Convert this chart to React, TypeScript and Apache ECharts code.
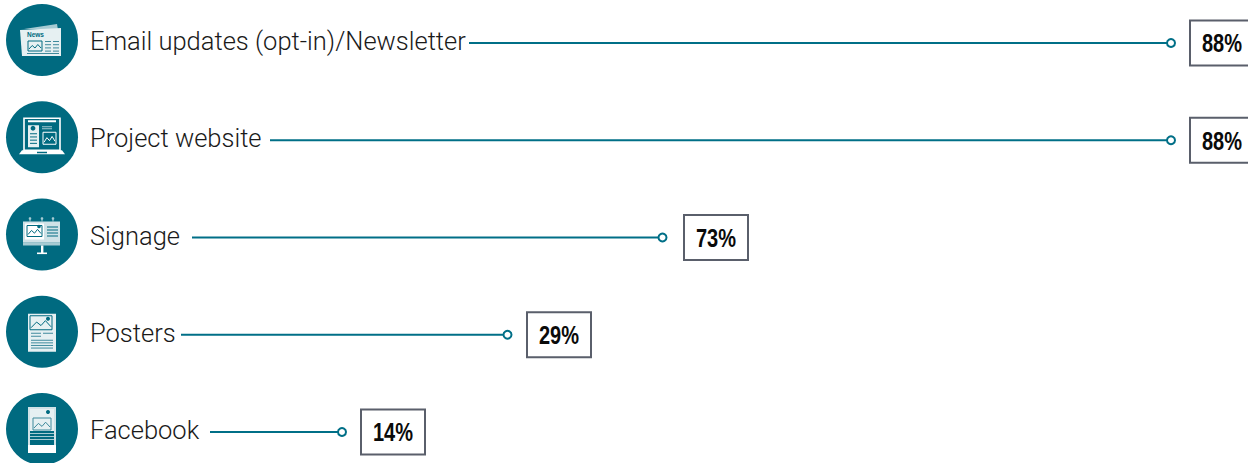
import React, { useEffect, useRef } from "react";
import * as echarts from "echarts";

const categories = ["Email updates (opt-in)/Newsletter", "Project website", "Signage", "Posters", "Facebook"];
const percentages = [88, 88, 73, 29, 14];
// Where each leader line begins and ends, read on the picture's horizontal axis.
const lineFrom = [469, 270, 192, 181, 210];
const lineTo = [1171, 1171, 662.5, 507.5, 342];
const boxFrom = [1190, 1190, 684, 527, 361];

const TEAL = "#006a80";
const LINE = "#006f87";
const WHITE = "#ffffff";
const SOFT = "rgba(255,255,255,0.65)";

const rect = (x: number, y: number, width: number, height: number, fill = WHITE, stroke?: string, lineWidth = 1) => ({
  type: "rect",
  shape: { x, y, width, height },
  style: { fill: stroke && fill === "none" ? "transparent" : fill, stroke, lineWidth },
});
const poly = (points: number[][], stroke = TEAL, lineWidth = 1) => ({
  type: "polyline",
  shape: { points },
  style: { fill: "transparent", stroke, lineWidth },
});
const dot = (cx: number, cy: number, r: number, fill = TEAL) => ({
  type: "circle",
  shape: { cx, cy, r },
  style: { fill },
});
const rows = (x: number, y: number, w: number, n: number, step: number, fill = TEAL, h = 1) =>
  Array.from({ length: n }, (_, i) => rect(x, y + i * step, w, h, fill));

const picture = (x: number, y: number, w: number, h: number, color = TEAL) => [
  rect(x, y, w, h, "none", color, 1),
  poly(
    [
      [x + 1, y + h - 2],
      [x + w * 0.3, y + h * 0.45],
      [x + w * 0.5, y + h * 0.7],
      [x + w * 0.7, y + h * 0.35],
      [x + w - 1, y + h - 3],
    ],
    color,
    1,
  ),
];

const iconNews = () => [
  { type: "polygon", shape: { points: [[-18, -11], [15, -16], [16, -10]] }, style: { fill: SOFT } },
  { type: "polygon", shape: { points: [[-22, -10], [19, -12], [19, 16], [-20, 16]] }, style: { fill: "#e6f0f2" } },
  { type: "text", style: { x: -15, y: -9, text: "News", fontSize: 6.5, fontWeight: "bold", fontFamily: "Liberation Sans", fill: TEAL } },
  ...picture(-14, 1, 14, 10),
  ...rows(3, 1, 6, 4, 3.2, "#3f8a9c"),
  ...rows(11, 1, 6, 4, 3.2, "#3f8a9c"),
  rect(-15, 13, 32, 1, "#3f8a9c"),
];

const iconLaptop = () => [
  rect(-18, -19, 36, 32, "none", WHITE, 1.6),
  rect(-14, -17, 28, 2, WHITE),
  rect(-14, -12, 11, 22, "#e6f0f2"),
  dot(-9, -9, 2.4),
  ...rows(-12, -4, 7, 4, 3.2),
  ...rows(0, -11, 10, 2, 2, SOFT),
  ...picture(1, -5, 13, 12, WHITE),
  { type: "polygon", shape: { points: [[-20, 13], [20, 13], [23, 17], [-23, 17]] }, style: { fill: WHITE } },
  rect(-5, 14.5, 10, 1.5, TEAL),
];

const iconBoard = () => [
  dot(-12, -16, 1.3, SOFT),
  dot(0, -16, 1.3, SOFT),
  dot(11, -16, 1.3, SOFT),
  rect(-12.5, -15, 1, 2, SOFT),
  rect(-0.5, -15, 1, 2, SOFT),
  rect(10.5, -15, 1, 2, SOFT),
  rect(-19, -13, 37, 21, "#cfe2e7"),
  rect(-17, -11, 19, 16, WHITE),
  ...picture(-15, -9, 15, 11),
  dot(-3, -8, 1.8),
  ...rows(5, -8, 11, 4, 3),
  rect(-19, 8, 37, 3, SOFT),
  rect(-1, 11, 2.4, 8, WHITE),
  rect(-5, 18, 10, 1.6, WHITE),
];

const iconPoster = () => [
  rect(-14, -18, 28, 38, "#e6f0f2"),
  ...picture(-12, -16, 22, 14),
  dot(6, -13, 2),
  ...rows(-11, 1, 10, 2, 3, "#3f8a9c"),
  rect(1, 1, 10, 1, "#3f8a9c"),
  ...rows(-11, 8, 22, 4, 2.6, "#3f8a9c"),
];

const iconPhone = () => [
  rect(-14, -22, 28, 46, "#cfe2e7"),
  rect(-12, -20, 24, 22, "#e6f0f2"),
  ...picture(-9, -11, 18, 12, "#3f8a9c"),
  dot(6, -17, 2),
  rect(-12, 2, 24, 14, TEAL),
  ...rows(-12, 4, 24, 3, 3, SOFT),
  rect(-14, 16, 28, 8, WHITE),
];

const icons = [iconNews, iconLaptop, iconBoard, iconPoster, iconPhone];

export default function App() {
  const ref = useRef<HTMLDivElement>(null);
  useEffect(() => {
    const chart = echarts.init(ref.current!, undefined, { renderer: "svg" });
    chart.setOption({
      animation: false,
      backgroundColor: "#ffffff",
      grid: { left: 0, right: 0, top: 40, height: 389 },
      xAxis: { type: "value", min: 0, max: 1248, show: false },
      yAxis: { type: "category", inverse: true, boundaryGap: false, data: categories, show: false },
      series: [
        {
          type: "custom",
          clip: false,
          coordinateSystem: "cartesian2d",
          encode: { x: [1, 2], y: 0 },
          data: categories.map((c, i) => [c, lineFrom[i], lineTo[i], boxFrom[i], percentages[i]]),
          renderItem: (params: any, api: any) => {
            const i = params.dataIndex;
            const [, cy] = api.coord([0, i]);
            const [x0] = api.coord([lineFrom[i], i]);
            const [x1] = api.coord([lineTo[i], i]);
            const [bx] = api.coord([boxFrom[i], i]);
            const ly = cy + 3;
            return {
              type: "group",
              children: [
                { type: "circle", shape: { cx: 42, cy, r: 36 }, style: { fill: TEAL } },
                { type: "group", x: 42, y: cy, children: icons[i]() },
                {
                  type: "text",
                  style: {
                    x: 90,
                    y: cy + 1,
                    text: categories[i],
                    fontFamily: "Roboto",
                    fontWeight: 300,
                    fontSize: 25.5,
                    fill: "#1a1a1a",
                    verticalAlign: "middle",
                  },
                },
                { type: "line", shape: { x1: x0, y1: ly, x2: x1 - 4, y2: ly }, style: { stroke: LINE, lineWidth: 2 } },
                { type: "circle", shape: { cx: x1, cy: ly, r: 4 }, style: { fill: WHITE, stroke: LINE, lineWidth: 2 } },
                { type: "rect", shape: { x: bx, y: ly - 22.5, width: 64, height: 45 }, style: { fill: WHITE, stroke: "#5a5f6b", lineWidth: 2 } },
                {
                  type: "text",
                  x: bx + 32,
                  y: ly + 1,
                  scaleX: 0.8,
                  style: {
                    x: 0,
                    y: 0,
                    text: percentages[i] + "%",
                    fontFamily: "Liberation Sans",
                    fontWeight: "bold",
                    fontSize: 25,
                    fill: "#0a0a0a",
                    align: "center",
                    verticalAlign: "middle",
                  },
                },
              ],
            };
          },
        },
      ],
    });
    return () => chart.dispose();
  }, []);
  return <div ref={ref} style={{ position: "absolute", left: 0, top: 0, width: 1248, height: 463 }} />;
}
